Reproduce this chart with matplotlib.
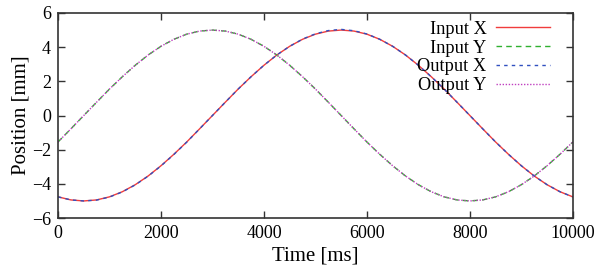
import numpy as np
import matplotlib
matplotlib.use('Agg')
from matplotlib import pyplot as plt

plt.rcParams['font.family'] = ['Liberation Serif', 'DejaVu Serif']

# sample times [ms]
time_ms = list(range(0, 10001, 250))

# positions [mm]
input_x = [-4.76, -4.94, -5.00, -4.94, -4.76, -4.46, -4.05, -3.54, -2.94, -2.27,
           -1.55, -0.78, 0.00, 0.78, 1.55, 2.27, 2.94, 3.54, 4.05, 4.46,
           4.76, 4.94, 5.00, 4.94, 4.76, 4.46, 4.05, 3.54, 2.94, 2.27,
           1.55, 0.78, 0.00, -0.78, -1.55, -2.27, -2.94, -3.54, -4.05, -4.46,
           -4.76]
input_y = [-1.55, -0.78, 0.00, 0.78, 1.55, 2.27, 2.94, 3.54, 4.05, 4.46,
           4.76, 4.94, 5.00, 4.94, 4.76, 4.46, 4.05, 3.54, 2.94, 2.27,
           1.55, 0.78, 0.00, -0.78, -1.55, -2.27, -2.94, -3.54, -4.05, -4.46,
           -4.76, -4.94, -5.00, -4.94, -4.76, -4.46, -4.05, -3.54, -2.94, -2.27,
           -1.55]
output_x = [-4.76, -4.94, -5.00, -4.95, -4.77, -4.47, -4.06, -3.55, -2.95, -2.28,
            -1.56, -0.78, 0.00, 0.78, 1.55, 2.27, 2.94, 3.54, 4.05, 4.47,
            4.78, 4.97, 5.04, 4.96, 4.77, 4.46, 4.05, 3.54, 2.94, 2.27,
            1.55, 0.78, 0.00, -0.78, -1.55, -2.27, -2.94, -3.54, -4.05, -4.46,
            -4.76]
output_y = [-1.55, -0.78, 0.00, 0.78, 1.55, 2.27, 2.94, 3.54, 4.05, 4.46,
            4.76, 4.94, 5.00, 4.94, 4.76, 4.46, 4.05, 3.54, 2.94, 2.27,
            1.55, 0.78, 0.00, -0.78, -1.55, -2.27, -2.94, -3.54, -4.05, -4.46,
            -4.76, -4.94, -5.00, -4.94, -4.76, -4.46, -4.05, -3.54, -2.94, -2.27,
            -1.55]

fig = plt.figure(figsize=(6.0, 2.76), dpi=100)
ax = fig.add_axes([0.0967, 0.21, 0.858, 0.743])

ax.plot(time_ms, input_x, color='#f03c3c', lw=1.0, label='Input X')
ax.plot(time_ms, input_y, color='#30b030', lw=1.0, dashes=(4, 3), label='Input Y')
ax.plot(time_ms, output_x, color='#3050c0', lw=1.0, dashes=(2.5, 3), label='Output X')
ax.plot(time_ms, output_y, color='#c040c0', lw=1.0, dashes=(1, 1.2), label='Output Y')

ax.set_xlim(0, 10000)
ax.set_ylim(-6, 6)
ax.set_xticks(range(0, 10001, 2000))
ax.set_yticks(range(-6, 7, 2))
ax.tick_params(direction='in', length=5, width=1, top=True, right=True,
               labelsize=13, colors='#333333', labelcolor='black', pad=5)
for s in ax.spines.values():
    s.set_color('#333333')
    s.set_linewidth(1.2)

ax.set_xlabel('Time [ms]', fontsize=15, labelpad=3)
ax.set_ylabel('Position [mm]', fontsize=15, labelpad=1)

# legend sits a little inside the upper right corner, labels right aligned
leg = ax.legend(loc='upper right', bbox_to_anchor=(0.955, 0.962), frameon=False,
                markerfirst=False, fontsize=13.2, handlelength=2.9,
                handletextpad=0.55, labelspacing=0.1, borderaxespad=0, borderpad=0)

plt.savefig('out.png', dpi=100)
